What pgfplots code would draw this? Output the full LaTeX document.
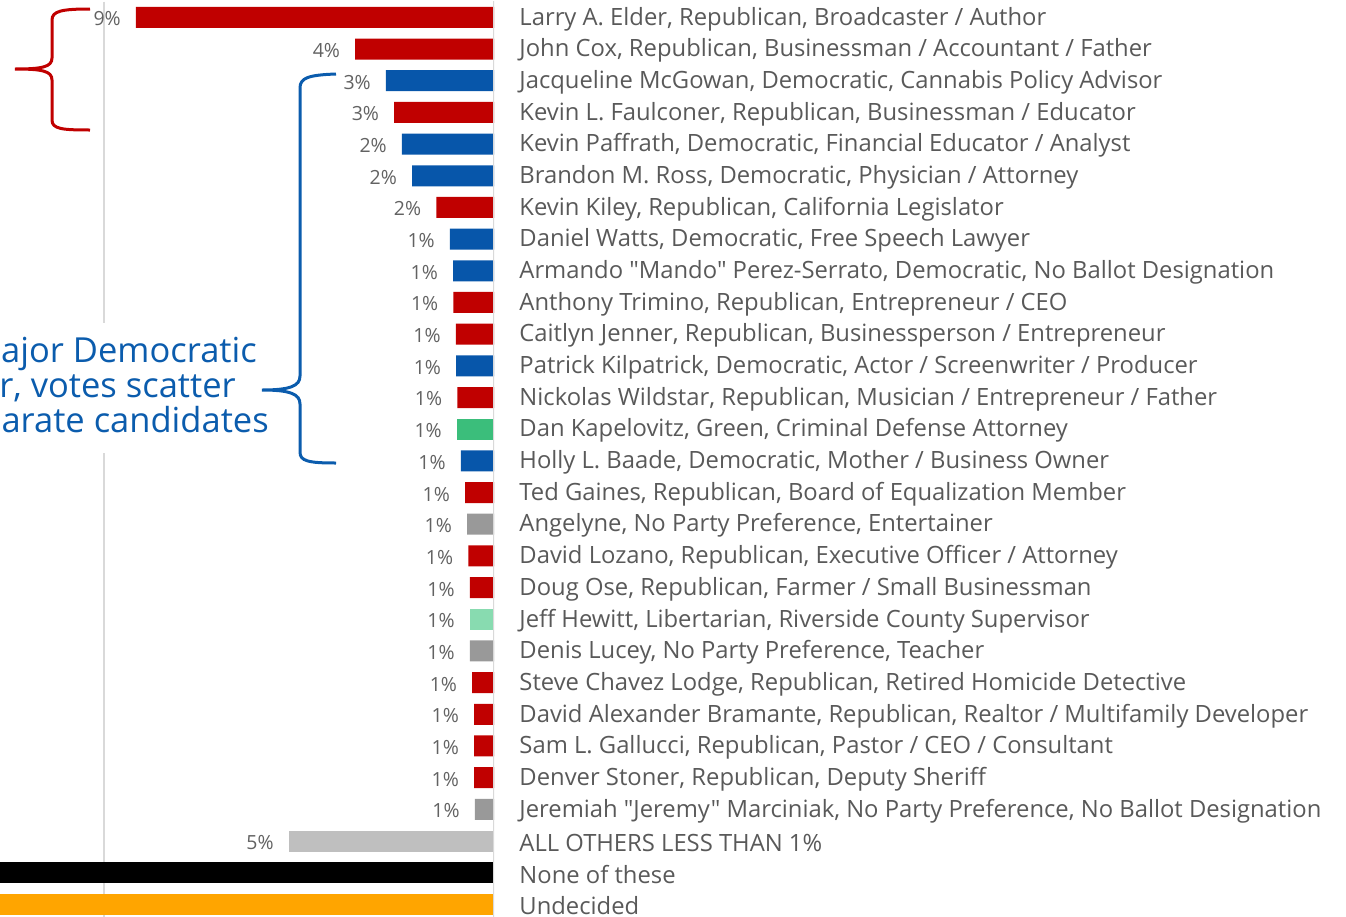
\documentclass[border=0pt]{standalone}
\usepackage{fontspec}
\setmainfont{Open Sans}[Ligatures=TeXOff]
\usepackage{pgfplots}
\pgfplotsset{compat=1.18}

\definecolor{rep}{HTML}{C00000}
\definecolor{dem}{HTML}{0756AA}
\definecolor{grn}{HTML}{3BBE7B}
\definecolor{lib}{HTML}{88DBB0}
\definecolor{npp}{HTML}{999999}
\definecolor{oth}{HTML}{BFBFBF}
\definecolor{und}{HTML}{FFA500}
\definecolor{txt}{HTML}{595959}
\definecolor{pct}{HTML}{626262}
\definecolor{note}{HTML}{0B5CAD}
\definecolor{rule}{HTML}{D9D9D9}

\begin{document}
\begin{tikzpicture}
\path[use as bounding box] (0,0) rectangle (1346pt,-916pt);
\clip (0,0) rectangle (1346pt,-916pt);

\begin{axis}[
    at={(0pt,-1.5pt)}, anchor=north west,
    width=494pt, height=918.7pt, scale only axis,
    xmin=0, xmax=12.667, x dir=reverse,
    ymin=-0.5, ymax=28.5, y dir=reverse,
    xbar, bar width=21pt, bar shift=0pt,
    axis line style={draw=none},
    tick style={draw=none},
    xtick={10}, xticklabels={},
    xmajorgrids, major grid style={draw=rule, line width=1.6pt},
    ytick={0,...,28},
    yticklabel pos=upper,
    yticklabel style={anchor=west, inner sep=0pt, xshift=21pt, yshift=-1.5pt,
        text=txt, font=\fontsize{23.8}{26}\selectfont},
    yticklabels={
        {Larry A. Elder, Republican, Broadcaster / Author},
        {John Cox, Republican, Businessman / Accountant / Father},
        {Jacqueline McGowan, Democratic, Cannabis Policy Advisor},
        {Kevin L. Faulconer, Republican, Businessman / Educator},
        {Kevin Paffrath, Democratic, Financial Educator / Analyst},
        {Brandon M. Ross, Democratic, Physician / Attorney},
        {Kevin Kiley, Republican, California Legislator},
        {Daniel Watts, Democratic, Free Speech Lawyer},
        {Armando "Mando" Perez-Serrato, Democratic, No Ballot Designation},
        {Anthony Trimino, Republican, Entrepreneur / CEO},
        {Caitlyn Jenner, Republican, Businessperson / Entrepreneur},
        {Patrick Kilpatrick, Democratic, Actor / Screenwriter / Producer},
        {Nickolas Wildstar, Republican, Musician / Entrepreneur / Father},
        {Dan Kapelovitz, Green, Criminal Defense Attorney},
        {Holly L. Baade, Democratic, Mother / Business Owner},
        {Ted Gaines, Republican, Board of Equalization Member},
        {Angelyne, No Party Preference, Entertainer},
        {David Lozano, Republican, Executive Officer / Attorney},
        {Doug Ose, Republican, Farmer / Small Businessman},
        {Jeff Hewitt, Libertarian, Riverside County Supervisor},
        {Denis Lucey, No Party Preference, Teacher},
        {Steve Chavez Lodge, Republican, Retired Homicide Detective},
        {David Alexander Bramante, Republican, Realtor / Multifamily Developer},
        {Sam L. Gallucci, Republican, Pastor / CEO / Consultant},
        {Denver Stoner, Republican, Deputy Sheriff},
        {Jeremiah "Jeremy" Marciniak, No Party Preference, No Ballot Designation},
        {ALL OTHERS LESS THAN 1\%},
        {None of these},
        {Undecided}},
    nodes near coords,
    point meta=explicit symbolic,
    every node near coord/.append style={anchor=east, xshift=-15pt, yshift=-1.5pt,
        inner sep=0pt, text=pct, font=\fontsize{19.5}{22}\selectfont},
]

% Republican
\addplot[draw=none, fill=rep] coordinates {
    (9.18,0) [9\%] (3.56,1) [4\%] (2.56,3) [3\%] (1.48,6) [2\%]
    (1.04,9) [1\%] (0.98,10) [1\%] (0.94,12) [1\%] (0.74,15) [1\%]
    (0.66,17) [1\%] (0.62,18) [1\%] (0.56,21) [1\%] (0.51,22) [1\%]
    (0.51,23) [1\%] (0.51,24) [1\%]
};
% Democratic
\addplot[draw=none, fill=dem] coordinates {
    (2.77,2) [3\%] (2.36,4) [2\%] (2.10,5) [2\%] (1.13,7) [1\%]
    (1.05,8) [1\%] (0.97,11) [1\%] (0.85,14) [1\%]
};
% Green
\addplot[draw=none, fill=grn] coordinates {(0.95,13) [1\%]};
% Libertarian
\addplot[draw=none, fill=lib] coordinates {(0.62,19) [1\%]};
% No Party Preference
\addplot[draw=none, fill=npp] coordinates {
    (0.69,16) [1\%] (0.62,20) [1\%] (0.49,25) [1\%]
};
% all others
\addplot[draw=none, fill=oth] coordinates {(5.26,26) [5\%]};
% none of these / undecided (run past the cropped left edge)
\addplot[draw=none, fill=black] coordinates {(15,27) []};
\addplot[draw=none, fill=und] coordinates {(18,28) []};

\draw[rule, line width=2pt] (axis cs:0,-0.6) -- (axis cs:0,28.6);
\end{axis}

\begin{scope}[x=1pt, y=-1pt]
% white gap in the gridline behind the note
\fill[white] (60,323) rectangle (140,453);
\node[anchor=base east, inner sep=0pt, text=note, font=\fontsize{34.5}{36}\selectfont] at (257,362) {ajor Democratic};
\node[anchor=base east, inner sep=0pt, text=note, font=\fontsize{34.5}{36}\selectfont] at (236,397) {r, votes scatter};
\node[anchor=base east, inner sep=0pt, text=note, font=\fontsize{34.5}{36}\selectfont] at (269,432) {arate candidates};

% red brace
\draw[rep, line width=3pt]
    (90,9) .. controls (62,9) and (52,11) .. (52,20) -- (52,58)
    .. controls (52,67) and (42,69) .. (15,69)
    .. controls (42,69) and (52,71) .. (52,80) -- (52,120)
    .. controls (52,129) and (62,130) .. (90,130);
% blue brace
\draw[note, line width=3pt]
    (336,74) .. controls (308,75) and (300,78) .. (300,88) -- (300,376)
    .. controls (300,386) and (290,390) .. (262,390)
    .. controls (290,390) and (300,394) .. (300,404) -- (300,452)
    .. controls (300,461) and (308,463) .. (336,463);
\end{scope}
\end{tikzpicture}
\end{document}
